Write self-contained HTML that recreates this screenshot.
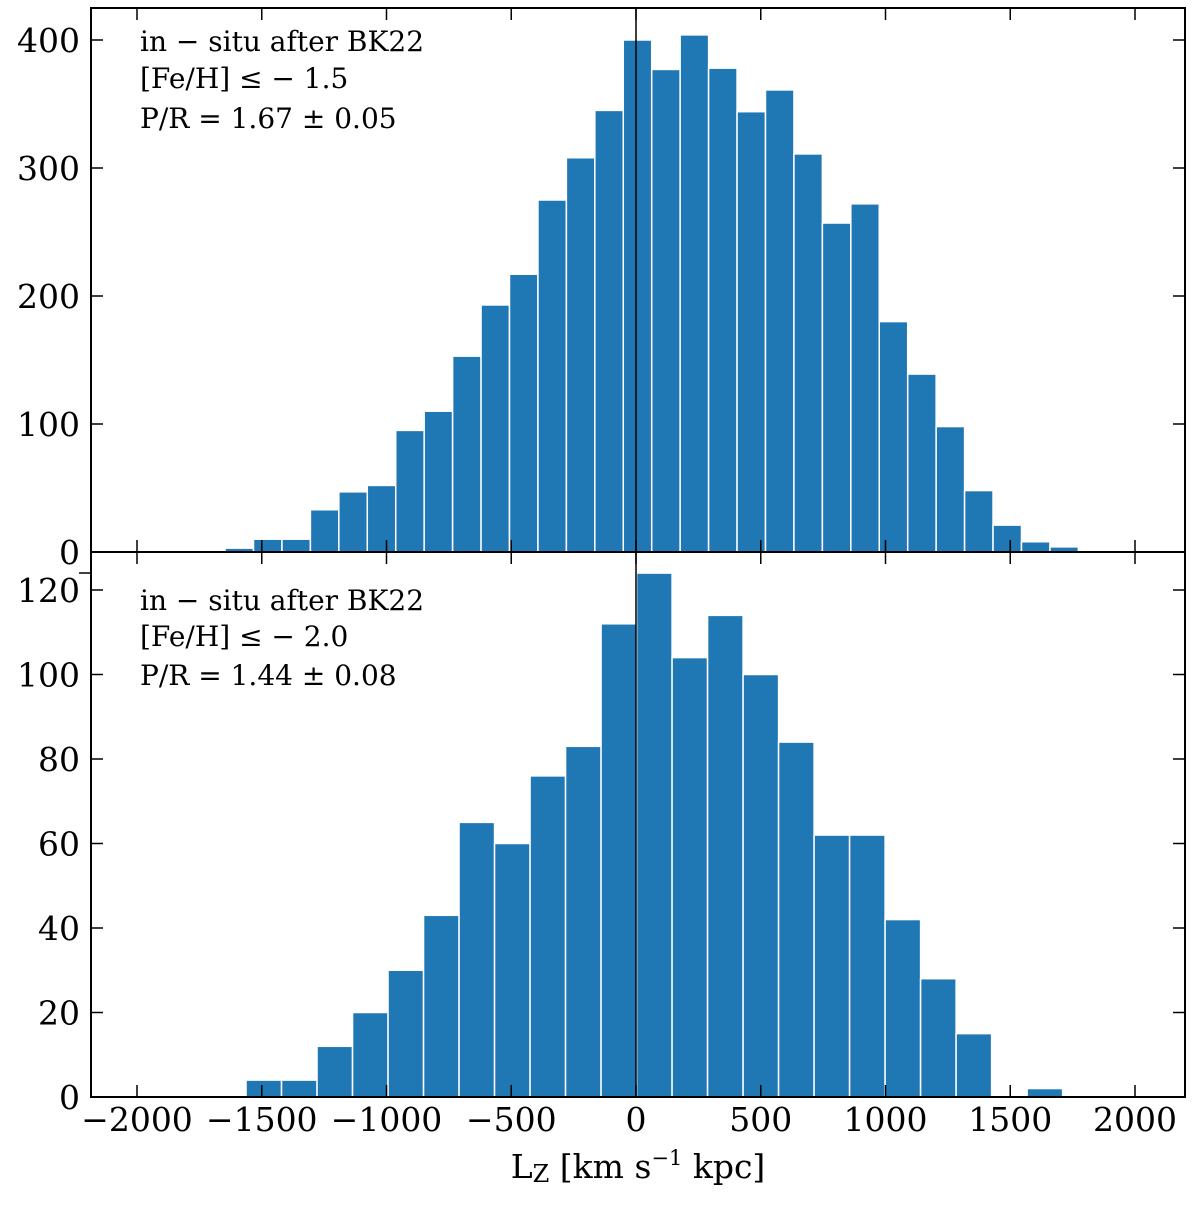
<!DOCTYPE html>
<html><head><meta charset="utf-8"><style>html,body{margin:0;padding:0;background:#fff}svg{display:block}</style></head>
<body>
<svg id="chart" width="1200" height="1208" viewBox="0 0 1200 1208" xmlns="http://www.w3.org/2000/svg" font-family="'DejaVu Serif', 'Liberation Serif', serif">
<g id="bars-top"></g>
<g id="bars-bot"></g>
<g id="axes"></g>
<text x="140" y="51" font-size="28">in − situ after BK22</text>
<text x="140" y="88" font-size="28">[Fe/H] ≤ − 1.5</text>
<text x="140" y="128" font-size="28">P/R = 1.67 ± 0.05</text>
<text x="140" y="610" font-size="28">in − situ after BK22</text>
<text x="140" y="646" font-size="28">[Fe/H] ≤ − 2.0</text>
<text x="140" y="685" font-size="28">P/R = 1.44 ± 0.08</text>
<text x="638" y="1178" font-size="33" text-anchor="middle">L<tspan font-size="24" dy="4">Z</tspan><tspan dy="-4"> [km s</tspan><tspan font-size="21" dy="-13">−1</tspan><tspan dy="13"> kpc]</tspan></text>
</svg>
<script>
const topStart = -1647;
const topBinWidth = 114;
const topCounts = [3,10,10,33,47,52,95,110,153,193,217,275,308,345,400,377,404,378,344,361,311,257,272,180,139,98,48,21,8,4];
const botStart = -1563;
const botBinWidth = 142.3;
const botCounts = [4,4,12,20,30,43,65,60,76,83,112,124,104,114,100,84,62,62,42,28,15,0,2];
const xTicks = [-2000,-1500,-1000,-500,0,500,1000,1500,2000];
const xTickLabels = ["−2000","−1500","−1000","−500","0","500","1000","1500","2000"];
const topYTicks = [0,100,200,300,400];
const botYTicks = [0,20,40,60,80,100,120];

const NS = "http://www.w3.org/2000/svg";
const L = 91, R = 1185;
const X = v => 636 + v * 0.2495;
const topY = v => 552 - v * 1.28;
const botY = v => 1097 - v * 4.225;

function mk(tag, attrs, parent) {
  const e = document.createElementNS(NS, tag);
  for (const k in attrs) e.setAttribute(k, attrs[k]);
  parent.appendChild(e);
  return e;
}
const gt = document.getElementById('bars-top');
topCounts.forEach((c, i) => {
  if (c <= 0) return;
  const x0 = X(topStart + i * topBinWidth), x1 = X(topStart + (i + 1) * topBinWidth);
  const r = mk('rect', {x: x0, y: topY(c), width: x1 - x0, height: topY(0) - topY(c), fill: '#1f77b4', stroke: '#fff', 'stroke-width': 1.5}, gt);
  
  
});
const gb = document.getElementById('bars-bot');
botCounts.forEach((c, i) => {
  if (c <= 0) return;
  const x0 = X(botStart + i * botBinWidth), x1 = X(botStart + (i + 1) * botBinWidth);
  const r = mk('rect', {x: x0, y: botY(c), width: x1 - x0, height: botY(0) - botY(c), fill: '#1f77b4', stroke: '#fff', 'stroke-width': 1.5}, gb);
  
  
});
const ga = document.getElementById('axes');
function line(x1, y1, x2, y2, w, name) {
  const l = mk('line', {x1, y1, x2, y2, stroke: '#000', 'stroke-width': w}, ga);
  
  
}
function text(x, y, s, anchor, name) {
  const t = mk('text', {x, y, 'font-size': 33, 'text-anchor': anchor}, ga);
  t.textContent = s;
  
  
}
line(X(0), 8, X(0), 552, 1.5, 'top-zero-line');
line(X(0), 552, X(0), 1097, 1.5, 'bottom-zero-line');
[[8,552],[552,1097]].forEach(([t,b], p) => {
  const f = mk('rect', {x: L, y: t, width: R - L, height: b - t, fill: 'none', stroke: '#000', 'stroke-width': 2}, ga);
  
  
  xTicks.forEach(v => {
    line(X(v), b, X(v), b - 12, 1.5, 'x-tick');
    line(X(v), t, X(v), t + 12, 1.5, 'x-tick');
  });
});
topYTicks.forEach(v => {
  line(L, topY(v), L + 12, topY(v), 1.5, 'top-y-tick');
  line(R, topY(v), R - 12, topY(v), 1.5, 'top-y-tick');
  text(80, topY(v) + 12, String(v), 'end', 'top-y-tick-label');
});
botYTicks.forEach(v => {
  line(L, botY(v), L + 12, botY(v), 1.5, 'bottom-y-tick');
  line(R, botY(v), R - 12, botY(v), 1.5, 'bottom-y-tick');
  text(80, botY(v) + 12, String(v), 'end', 'bottom-y-tick-label');
});
line(L - 12, 573, L, 573, 1.5, 'bottom-y-tick-hidden');
xTicks.forEach((v, i) => text(X(v), 1131, xTickLabels[i], 'middle', 'x-tick-label'));
</script>
</body></html>
